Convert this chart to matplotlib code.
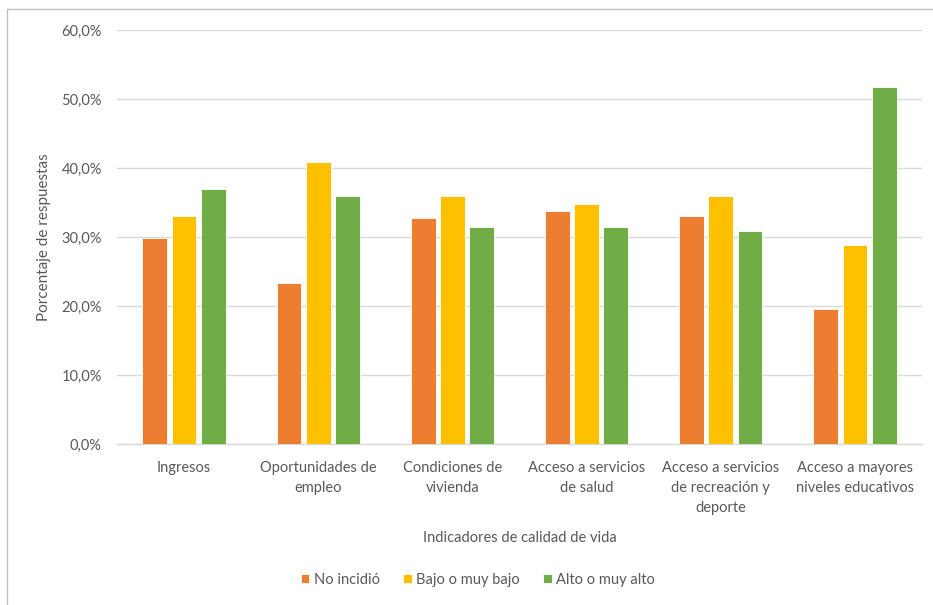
import matplotlib
matplotlib.use("Agg")
import matplotlib.pyplot as plt
import numpy as np
from matplotlib.lines import Line2D
from matplotlib.ticker import FuncFormatter

categories = [
    "Ingresos",
    "Oportunidades de\nempleo",
    "Condiciones de\nvivienda",
    "Acceso a servicios\nde salud",
    "Acceso a servicios\nde recreación y\ndeporte",
    "Acceso a mayores\nniveles educativos",
]
no_incidio = [29.9, 23.4, 32.7, 33.7, 33.1, 19.5]
bajo = [33.1, 40.9, 36.0, 34.8, 36.0, 28.9]
alto = [37.0, 36.0, 31.5, 31.5, 30.9, 51.7]
series_names = ["No incidió", "Bajo o muy bajo", "Alto o muy alto"]
colors = ["#ED7D31", "#FFC000", "#70AD47"]

plt.rcParams["font.family"] = ["Lato", "DejaVu Sans"]
TXT = "#595959"

fig = plt.figure(figsize=(9.33, 6.05), dpi=100)
# plot area in pixels: left 117, right 922, top 30, bottom 444
ax = fig.add_axes([117 / 933, 1 - 444 / 605, 805 / 933, 414 / 605])

x = np.arange(len(categories))
w = 0.185
step = 0.218
for i, (vals, name, c) in enumerate(zip([no_incidio, bajo, alto], series_names, colors)):
    ax.bar(x + (i - 1) * step, vals, w, color=c, edgecolor="white", linewidth=0.6,
           label=name, zorder=3)

ax.set_xlim(-0.5, len(categories) - 0.5)
ax.set_ylim(0, 60)
ax.set_yticks(np.arange(0, 61, 10))
ax.yaxis.set_major_formatter(FuncFormatter(lambda v, _: f"{v:.1f}%".replace(".", ",")))
ax.grid(axis="y", color="#D9D9D9", linewidth=1, zorder=0)
for s in ["top", "right", "left"]:
    ax.spines[s].set_visible(False)
ax.spines["bottom"].set_color("#D9D9D9")
ax.spines["bottom"].set_linewidth(1)
ax.tick_params(axis="both", length=0, colors=TXT, labelsize=10.5)
ax.tick_params(axis="y", pad=11)
ax.tick_params(axis="x", pad=12)
ax.set_xticks(x)
ax.set_xticklabels(categories, va="top", linespacing=1.55)

ax.set_ylabel("Porcentaje de respuestas", color=TXT, fontsize=11)
ax.yaxis.set_label_coords(-66 / 805, 0.5)
ax.set_xlabel("Indicadores de calidad de vida", color=TXT, fontsize=10.5, labelpad=12)

fig.legend(loc="center", bbox_to_anchor=(478 / 933, 1 - 580 / 605), ncol=3, frameon=False,
           fontsize=10.5, labelcolor=TXT, handlelength=0.6, handleheight=0.6,
           handletextpad=0.3, columnspacing=1.6)

# chart border (only top/left edges fall inside the picture)
bx, by = 7.5 / 933, 1 - 8.5 / 605
fig.add_artist(Line2D([bx, bx, 1.01], [-0.01, by, by], transform=fig.transFigure,
                      color="#BFBFBF", linewidth=1))

fig.savefig("out.png", dpi=100)
